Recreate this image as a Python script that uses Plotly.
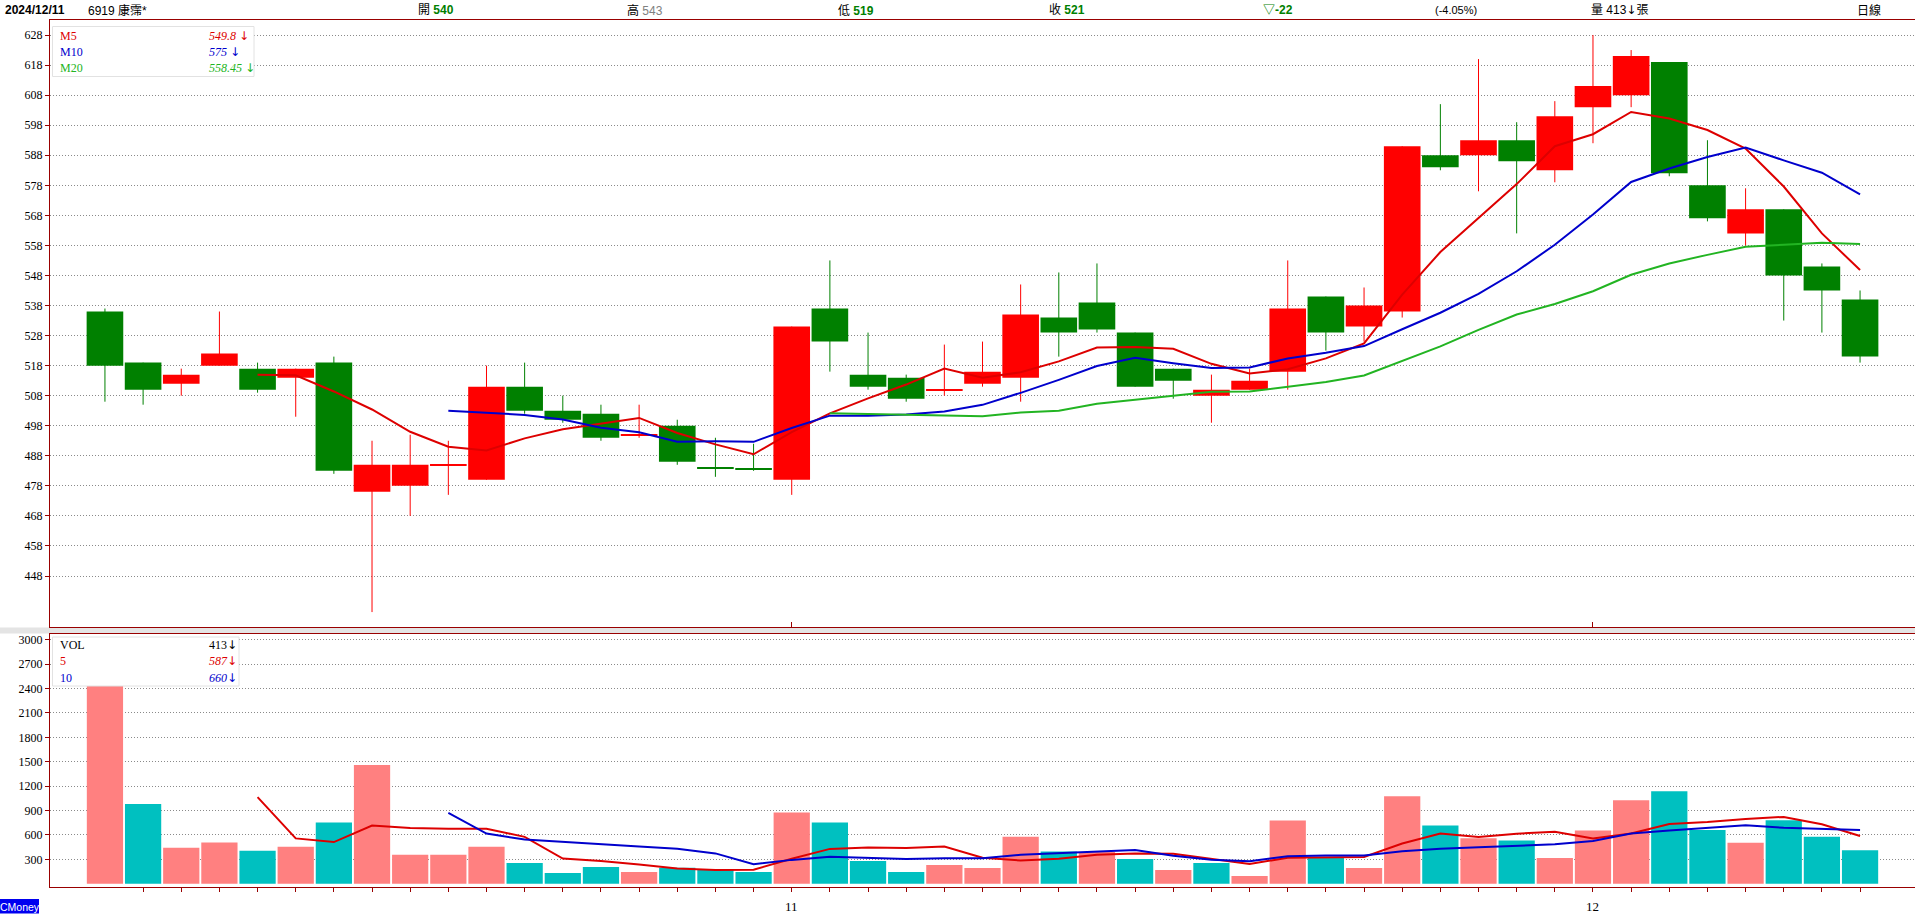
import plotly.graph_objects as go
import pandas as pd

W, H = 1915, 920

# ---------------- data ----------------
opens  = [536, 519, 512, 518, 517, 514, 519, 476, 478, 485, 480, 511, 503, 502, 495, 498,
          484, 483.5, 480, 537, 515, 514, 510, 512, 514, 534, 539, 529, 517, 508, 510, 516,
          541, 531, 536, 588, 588, 593, 583, 604, 608, 619, 578, 562, 570, 551, 540]
highs  = [537, 519, 517, 536, 519, 517, 521, 493, 495, 493, 518, 519, 508, 505, 505, 500,
          494, 492, 531, 553, 529, 515, 525, 526, 545, 549, 552, 529, 517, 515, 517, 553,
          541, 544, 591, 605, 620, 599, 606, 628, 623, 619, 593, 577, 570, 552, 543]
lows   = [506, 505, 508, 518, 509, 501, 482, 436, 468, 475, 480, 502, 499, 493, 494, 485,
          481, 483, 475, 516, 510, 506, 508, 511, 506, 521, 529, 511, 507, 499, 510, 510,
          523, 526, 534, 583, 576, 562, 579, 592, 604, 581, 566, 558, 533, 529, 519]
closes = [518, 510, 515, 522, 510, 517, 483, 485, 485, 485, 511, 503, 500, 494, 495, 486,
          484, 483.5, 531, 526, 511, 507, 510, 516, 535, 529, 530, 511, 513, 510, 513, 537,
          529, 538, 591, 584, 593, 586, 601, 611, 621, 582, 567, 570, 548, 543, 521]
volumes = [2990, 980, 442, 508, 404, 454, 753, 1461, 355, 355, 454, 255, 131, 206, 143, 197,
           172, 143, 877, 753, 280, 143, 230, 193, 578, 396, 390, 305, 168, 255, 94, 777,
           330, 193, 1076, 715, 558, 530, 317, 654, 1026, 1138, 660, 504, 780, 578, 413]

price_ticks = [448, 458, 468, 478, 488, 498, 508, 518, 528, 538, 548, 558, 568, 578, 588,
               598, 608, 618, 628]
vol_ticks = [300, 600, 900, 1200, 1500, 1800, 2100, 2400, 2700, 3000]
month_pos = [18, 39]
month_labels = ["11", "12"]

ma_price = [("M5", 5), ("M10", 10), ("M20", 20)]
ma_vol = [("5", 5), ("10", 10)]

# ---------------- styles ----------------
UP, DOWN = "#FF0000", "#008000"
VUP, VDOWN = "#FF8080", "#00C0C0"
BORDER = "#990000"
GRID = "#8a8a8a"
MA_COL = {"M5": "#DD0000", "M10": "#0000CC", "M20": "#22B422"}
VMA_COL = {"5": "#DD0000", "10": "#0000CC"}
SERIF = "Liberation Serif"
SANS = "Liberation Sans, Noto Sans CJK TC"
ARROW = '<span style="font-family:DejaVu Sans;font-size:12px">↓</span>'

n = len(closes)
xs = list(range(n))


def px(x):
    return x / W


def py(y):
    return 1 - y / H


# direction of each candle
cdir = []
for i in range(n):
    if closes[i] > opens[i]:
        cdir.append(True)
    elif closes[i] < opens[i]:
        cdir.append(False)
    else:
        cdir.append(True if i == 0 else closes[i] >= closes[i - 1])
vdir = [True] + [closes[i] >= closes[i - 1] for i in range(1, n)]

fig = go.Figure()

# wicks
for up, col in [(True, UP), (False, DOWN)]:
    wx, wy = [], []
    for i in range(n):
        if cdir[i] == up:
            wx += [i, i, None]
            wy += [lows[i], highs[i], None]
    fig.add_trace(go.Scatter(x=wx, y=wy, mode="lines", line=dict(color=col, width=1),
                             hoverinfo="skip", xaxis="x", yaxis="y"))

# bodies
MINH = 0.4
for up, col in [(True, UP), (False, DOWN)]:
    bx, bb, bh = [], [], []
    for i in range(n):
        if cdir[i] == up:
            lo, hi = min(opens[i], closes[i]), max(opens[i], closes[i])
            if hi - lo < MINH:
                mid = (hi + lo) / 2
                lo, hi = mid - MINH / 2, mid + MINH / 2
            bx.append(i)
            bb.append(lo)
            bh.append(hi - lo)
    fig.add_trace(go.Bar(x=bx, y=bh, base=bb, width=0.96, marker=dict(color=col, line=dict(width=0)),
                         hoverinfo="skip", xaxis="x", yaxis="y"))

# price moving averages
cs = pd.Series(closes, dtype=float)
for name, w in ma_price:
    m = cs.rolling(w).mean()
    fig.add_trace(go.Scatter(x=xs, y=[None if pd.isna(v) else v for v in m], mode="lines",
                             line=dict(color=MA_COL[name], width=2), hoverinfo="skip",
                             xaxis="x", yaxis="y"))

# volume bars
fig.add_trace(go.Bar(x=xs, y=volumes, width=0.95,
                     marker=dict(color=[VUP if d else VDOWN for d in vdir], line=dict(width=0)),
                     hoverinfo="skip", xaxis="x2", yaxis="y2"))
vs = pd.Series(volumes, dtype=float)
for name, w in ma_vol:
    m = vs.rolling(w).mean()
    fig.add_trace(go.Scatter(x=xs, y=[None if pd.isna(v) else v for v in m], mode="lines",
                             line=dict(color=VMA_COL[name], width=2), hoverinfo="skip",
                             xaxis="x2", yaxis="y2"))

XR = [-1.44, 47.44]
axis_font = dict(family=SERIF, size=12, color="black")

fig.update_layout(
    width=W, height=H, margin=dict(l=0, r=0, t=0, b=0),
    paper_bgcolor="white", plot_bgcolor="white", showlegend=False, barmode="overlay",
    xaxis=dict(domain=[px(50), 1], range=XR, anchor="y", showgrid=False, zeroline=False,
               showline=True, mirror=True, linecolor=BORDER, linewidth=1,
               tickvals=month_pos, ticks="inside", ticklen=5, tickcolor=BORDER,
               showticklabels=False, fixedrange=True),
    yaxis=dict(domain=[py(626.5), py(20)], range=[431.2, 633.0], anchor="x",
               tickvals=price_ticks, ticks="outside", ticklen=4, tickcolor=BORDER,
               showgrid=True, gridcolor=GRID, griddash="1px,2px", gridwidth=1,
               showline=True, linecolor=BORDER, linewidth=1, zeroline=False,
               tickfont=axis_font, fixedrange=True),
    xaxis2=dict(domain=[px(50), 1], range=XR, anchor="y2", showgrid=False, zeroline=False,
                showline=True, mirror=True, linecolor=BORDER, linewidth=1,
                tickvals=list(range(1, n)), ticktext=[""] * (n - 1), ticks="outside",
                ticklen=4, tickcolor=BORDER, fixedrange=True),
    yaxis2=dict(domain=[py(886.5), py(634)], range=[-34, 3070], anchor="x2",
                tickvals=vol_ticks, ticks="outside", ticklen=4, tickcolor=BORDER,
                showgrid=True, gridcolor=GRID, griddash="1px,2px", gridwidth=1,
                showline=True, linecolor=BORDER, linewidth=1, zeroline=False,
                tickfont=axis_font, fixedrange=True),
)

shapes = []
# separator band between panels
shapes.append(dict(type="rect", xref="paper", yref="paper", x0=0, x1=1, y0=py(633.5), y1=py(627.5),
                   fillcolor="#E4E4E4", line=dict(width=0), layer="below"))
# legend boxes
shapes.append(dict(type="rect", xref="paper", yref="paper", x0=px(52.5), x1=px(254), y0=py(76.5), y1=py(26.5),
                   fillcolor="white", line=dict(color="#E2E2E2", width=1), layer="above"))
shapes.append(dict(type="rect", xref="paper", yref="paper", x0=px(52.5), x1=px(239), y0=py(686), y1=py(637),
                   fillcolor="white", line=dict(color="#E2E2E2", width=1), layer="above"))
# CMoney badge
shapes.append(dict(type="rect", xref="paper", yref="paper", x0=0, x1=px(39), y0=py(913.5), y1=py(899),
                   fillcolor="#0000F0", line=dict(width=0), layer="above"))
fig.update_layout(shapes=shapes)

ann = []


def txt(x, y, text, size=12, color="black", family=SANS, anchor="left"):
    ann.append(dict(x=px(x), y=py(y), xref="paper", yref="paper", text=text, showarrow=False,
                    xanchor=anchor, yanchor="middle", font=dict(family=family, size=size, color=color)))


G = "#008000"
# header
txt(3, 10, "<b>2024/12/11</b>", 12)
txt(86, 10, "6919 康霈*", 12)
txt(416, 10, f'開 <span style="color:{G}"><b>{opens[-1]}</b></span>', 12)
txt(625, 10, f'高 <span style="color:#808080">{highs[-1]}</span>', 12)
txt(836, 10, f'低 <span style="color:{G}"><b>{lows[-1]}</b></span>', 12)
txt(1047, 10, f'收 <span style="color:{G}"><b>{closes[-1]}</b></span>', 12)
chg = closes[-1] - closes[-2]
txt(1261, 10, f'<b>▽{chg:.0f}</b>', 12, color=G)
txt(1433, 10, f'({chg / closes[-2] * 100:.2f}%)', 11)
txt(1589, 10, f'量 {volumes[-1]}{ARROW}張', 12)
txt(1855, 10, "日線", 12)

# price legend
rows = [36, 52, 68]
for (name, w), yy in zip(ma_price, rows):
    val = sum(closes[-w:]) / w
    s = f"{val:.2f}".rstrip("0").rstrip(".")
    txt(58, yy, name, 12, MA_COL[name], SERIF)
    txt(207, yy, f"<i>{s}</i> {ARROW}", 12, MA_COL[name], SERIF)

# volume legend
txt(58, 645, "VOL", 12, "black", SERIF)
txt(207, 645, f"{volumes[-1]}{ARROW}", 12, "black", SERIF)
for (name, w), yy in zip(ma_vol, [661, 678]):
    val = sum(volumes[-w:]) / w
    txt(58, yy, name, 12, VMA_COL[name], SERIF)
    txt(207, yy, f"<i>{val:.0f}</i>{ARROW}", 12, VMA_COL[name], SERIF)

# month labels under the volume panel
for pos, lab in zip(month_pos, month_labels):
    ann.append(dict(x=pos, y=py(906), xref="x2", yref="paper", text=lab, showarrow=False,
                    xanchor="center", yanchor="middle", font=dict(family=SERIF, size=13, color="black")))

# CMoney badge text
txt(19.5, 906.5, "CMoney", 10.5, "white", "Liberation Sans", anchor="center")

fig.update_layout(annotations=ann)

fig.write_html("out.html", config={"displayModeBar": False},
               post_script="document.body.style.margin='0';document.body.style.overflow='hidden';")
